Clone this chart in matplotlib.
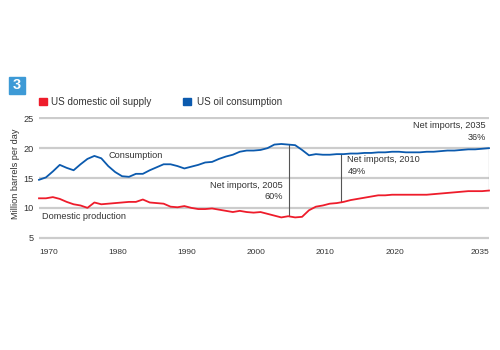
import numpy as np
import matplotlib.pyplot as plt
from matplotlib.patches import Rectangle

plt.rcParams['font.family'] = ['Liberation Sans', 'DejaVu Sans']

# values (million barrels per day)
years = np.arange(1970, 2036)
supply = [11.6, 11.6, 11.8, 11.5, 11.0, 10.6, 10.4, 10.0, 10.9, 10.6,
          10.7, 10.8, 10.9, 11.0, 11.0, 11.4, 10.9, 10.8, 10.7, 10.2,
          10.1, 10.3, 10.0, 9.8, 9.8, 9.9, 9.7, 9.5, 9.3, 9.5,
          9.3, 9.2, 9.3, 9.0, 8.7, 8.4, 8.6, 8.4, 8.5, 9.6,
          10.2, 10.4, 10.7, 10.8, 11.0, 11.3, 11.5, 11.7, 11.9, 12.1,
          12.1, 12.2, 12.2, 12.2, 12.2, 12.2, 12.2, 12.3, 12.4, 12.5,
          12.6, 12.7, 12.8, 12.8, 12.8, 12.9]
consumption = [14.7, 15.1, 16.1, 17.2, 16.7, 16.3, 17.3, 18.2, 18.7, 18.3,
               17.0, 16.0, 15.3, 15.2, 15.7, 15.7, 16.3, 16.8, 17.3, 17.3,
               17.0, 16.6, 16.9, 17.2, 17.6, 17.7, 18.2, 18.6, 18.9, 19.4,
               19.6, 19.6, 19.7, 20.0, 20.6, 20.7, 20.6, 20.5, 19.7, 18.8,
               19.0, 18.9, 18.9, 19.0, 19.0, 19.1, 19.1, 19.2, 19.2, 19.3,
               19.3, 19.4, 19.4, 19.3, 19.3, 19.3, 19.4, 19.4, 19.5, 19.6,
               19.6, 19.7, 19.8, 19.8, 19.9, 20.0]

# net import markers (position on the axis, label)
marker_x = [2006.1, 2013.6, 2035]
marker_text = ['Net imports, 2005\n60%', 'Net imports, 2010\n49%', 'Net imports, 2035\n36%']

xtick_years = [1970, 1980, 1990, 2000, 2010, 2020, 2035]
yticks = [5, 10, 15, 20, 25]

red = '#ee1c2b'
blue = '#0b5aae'
txt = '#333333'
fs = 6.6

fig = plt.figure(figsize=(5, 3.5), dpi=100, facecolor='w')
ax = fig.add_axes([0.078, 0.3157, 0.9, 0.3514])

ax.set_xlim(1970, 2035)
ax.set_ylim(4.7, 25.3)
ax.set_yticks(yticks)
ax.yaxis.grid(True, color='#cccccc', lw=1.6)
ax.set_axisbelow(True)
for s in ax.spines.values():
    s.set_visible(False)
ax.tick_params(length=0, labelsize=fs, colors=txt)
ax.tick_params(axis='y', pad=4)
ax.tick_params(axis='x', pad=7, labelsize=6)

ax.set_xticks(xtick_years)
ax.set_xticklabels([str(y) for y in xtick_years])
for i, lab in enumerate(ax.get_xticklabels()):
    lab.set_ha('right' if i == len(xtick_years) - 1 else 'left')

# vertical net import lines
for mx in marker_x:
    top = np.interp(mx, years, consumption)
    bot = np.interp(mx, years, supply)
    ax.plot([mx, mx], [bot, top], color='#555555', lw=0.8, zorder=2)

ax.plot(years, supply, color=red, lw=1.3, zorder=3, clip_on=False)
ax.plot(years, consumption, color=blue, lw=1.3, zorder=3, clip_on=False)

ax.text(1980, 18.85, 'Consumption', fontsize=fs, color=txt, va='center')
ax.text(1970.4, 8.5, 'Domestic production', fontsize=fs, color=txt, va='center')
ax.text(2005.25, 12.8, marker_text[0], fontsize=fs, color=txt, ha='right',
        va='center', multialignment='right', linespacing=1.35)
ax.text(2014.56, 17.1, marker_text[1], fontsize=fs, color=txt, ha='left',
        va='center', multialignment='left', linespacing=1.35)
ax.text(2034.57, 22.8, marker_text[2], fontsize=fs, color=txt, ha='right',
        va='center', multialignment='right', linespacing=1.35)

ax.set_ylabel('Million barrels per day', fontsize=fs, color=txt)
ax.yaxis.set_label_coords(-0.042, 0.537)

# badge
fig.patches.append(Rectangle((0.018, 0.7314), 0.032, 0.0486,
                             transform=fig.transFigure, color='#3d9ad6'))
fig.text(0.034, 0.756, '3', color='w', fontsize=10.5, fontweight='bold',
         ha='center', va='center')

# legend
fig.patches.append(Rectangle((0.078, 0.70), 0.016, 0.02,
                             transform=fig.transFigure, color=red))
fig.text(0.102, 0.709, 'US domestic oil supply', fontsize=7.1, color=txt, va='center')
fig.patches.append(Rectangle((0.366, 0.70), 0.016, 0.02,
                             transform=fig.transFigure, color=blue))
fig.text(0.394, 0.709, 'US oil consumption', fontsize=7.1, color=txt, va='center')

plt.savefig('out.png', dpi=100)
